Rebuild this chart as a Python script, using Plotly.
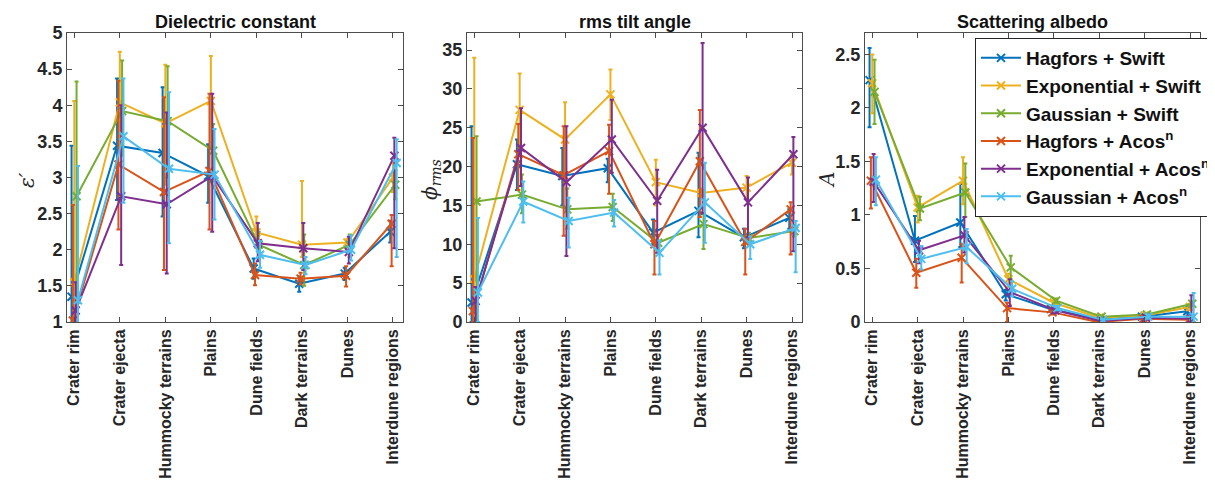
import plotly.graph_objects as go

categories = ["Crater rim", "Crater ejecta", "Hummocky terrains", "Plains",
              "Dune fields", "Dark terrains", "Dunes", "Interdune regions"]
series = ["Hagfors + Swift", "Exponential + Swift", "Gaussian + Swift",
          "Hagfors + Acos<sup>n</sup>", "Exponential + Acos<sup>n</sup>", "Gaussian + Acos<sup>n</sup>"]
colors = ["#0072BD", "#EDB120", "#77AC30", "#D95319", "#7E2F8E", "#4DBEEE"]
offsets = [-0.06, 0.0, 0.05, -0.03, 0.03, 0.08]

# Dielectric constant (value, upper, lower) per series
eps_val = [[1.35, 3.44, 3.34, 3.02, 1.74, 1.53, 1.67, 2.25],
           [1.55, 4.04, 3.75, 4.06, 2.24, 2.07, 2.10, 3.00],
           [2.74, 3.92, 3.78, 3.37, 2.07, 1.79, 2.07, 2.90],
           [1.02, 3.18, 2.80, 3.09, 1.65, 1.60, 1.64, 2.36],
           [1.16, 2.74, 2.63, 3.02, 2.09, 2.02, 1.97, 3.30],
           [1.30, 3.57, 3.12, 3.04, 1.93, 1.79, 2.00, 3.20]]
eps_hi = [[3.44, 4.37, 4.25, 3.46, 1.88, 1.63, 1.75, 2.40],
          [4.06, 4.74, 4.56, 4.68, 2.46, 2.95, 2.15, 3.20],
          [4.33, 4.62, 4.54, 3.74, 2.25, 2.21, 2.21, 3.10],
          [2.62, 4.34, 4.11, 4.16, 1.81, 1.68, 1.77, 2.48],
          [1.55, 4.00, 3.90, 4.16, 2.37, 2.37, 2.18, 3.55],
          [3.16, 4.37, 4.18, 3.67, 2.12, 1.90, 2.20, 3.53]]
eps_lo = [[0.50, 2.69, 2.46, 2.65, 1.60, 1.42, 1.58, 2.10],
          [0.50, 3.40, 2.90, 3.40, 2.05, 1.90, 2.05, 2.80],
          [1.15, 3.30, 3.00, 3.00, 1.90, 1.50, 1.90, 2.70],
          [0.50, 2.28, 1.72, 2.28, 1.51, 1.52, 1.49, 1.77],
          [0.80, 1.79, 1.67, 2.25, 1.84, 1.72, 1.81, 2.02],
          [0.50, 2.65, 2.09, 2.42, 1.75, 1.66, 1.85, 1.90]]

# rms tilt angle
rms_val = [[2.5, 20.3, 18.8, 19.8, 11.5, 14.3, 10.9, 13.4],
           [5.5, 27.3, 23.5, 29.3, 18.0, 16.6, 17.3, 20.5],
           [15.5, 16.4, 14.5, 14.8, 10.2, 12.6, 10.8, 11.7],
           [1.4, 21.6, 18.9, 22.0, 10.0, 20.7, 10.3, 14.5],
           [2.7, 22.4, 18.0, 23.5, 15.6, 25.0, 15.4, 21.6],
           [3.8, 15.5, 13.0, 14.1, 8.9, 15.4, 10.0, 12.1]]
rms_hi = [[25.2, 23.5, 22.4, 21.0, 13.2, 21.8, 12.0, 14.5],
          [34.0, 32.0, 28.3, 32.5, 20.9, 17.2, 18.8, 21.5],
          [23.9, 19.0, 17.2, 16.5, 11.2, 14.0, 11.5, 12.5],
          [23.7, 25.5, 25.2, 25.4, 13.0, 27.3, 12.0, 15.4],
          [4.5, 27.5, 25.2, 28.6, 19.6, 35.9, 18.6, 23.8],
          [13.4, 18.1, 16.0, 15.7, 10.5, 20.5, 11.0, 13.0]]
rms_lo = [[0.0, 17.0, 15.0, 18.0, 10.0, 10.9, 9.5, 12.0],
          [0.0, 22.0, 18.0, 26.0, 15.0, 16.0, 16.0, 19.0],
          [0.0, 14.0, 12.0, 13.0, 9.0, 9.4, 10.0, 11.0],
          [0.0, 17.0, 11.1, 16.5, 6.1, 13.5, 6.1, 8.7],
          [0.0, 17.5, 8.5, 19.2, 8.9, 14.0, 10.9, 9.1],
          [0.0, 12.8, 9.6, 12.3, 6.1, 10.2, 8.1, 6.4]]

# Scattering albedo
alb_val = [[2.26, 0.76, 0.93, 0.26, 0.12, 0.03, 0.05, 0.10],
           [2.23, 1.07, 1.32, 0.40, 0.18, 0.04, 0.06, 0.14],
           [2.15, 1.06, 1.21, 0.51, 0.20, 0.05, 0.07, 0.17],
           [1.32, 0.46, 0.60, 0.13, 0.09, 0.00, 0.03, 0.02],
           [1.31, 0.67, 0.81, 0.28, 0.11, 0.01, 0.04, 0.03],
           [1.33, 0.59, 0.70, 0.31, 0.13, 0.02, 0.05, 0.05]]
alb_hi = [[2.56, 0.99, 1.29, 0.30, 0.14, 0.04, 0.07, 0.15],
          [2.50, 1.18, 1.54, 0.45, 0.20, 0.05, 0.08, 0.17],
          [2.45, 1.17, 1.48, 0.62, 0.22, 0.06, 0.08, 0.19],
          [1.54, 0.59, 0.73, 0.18, 0.11, 0.01, 0.05, 0.05],
          [1.57, 0.76, 0.98, 0.40, 0.14, 0.02, 0.06, 0.25],
          [1.54, 0.71, 0.87, 0.38, 0.15, 0.03, 0.07, 0.27]]
alb_lo = [[1.82, 0.56, 0.70, 0.20, 0.10, 0.02, 0.03, 0.05],
          [1.95, 0.93, 1.10, 0.33, 0.16, 0.03, 0.04, 0.11],
          [1.85, 0.95, 0.98, 0.40, 0.18, 0.04, 0.06, 0.15],
          [1.06, 0.32, 0.37, 0.00, 0.07, 0.00, 0.01, 0.00],
          [1.12, 0.55, 0.65, 0.15, 0.08, 0.00, 0.02, 0.00],
          [1.09, 0.49, 0.55, 0.24, 0.11, 0.01, 0.03, 0.00]]

titles = ["Dielectric constant", "rms tilt angle", "Scattering albedo"]
ylabels = ["<i>ε′</i>", "<i>ϕ</i><sub><i>rms</i></sub>", "<i>A</i>"]
yranges = [[1, 5], [0, 37.2], [0, 2.7]]
ytickvals = [[1, 1.5, 2, 2.5, 3, 3.5, 4, 4.5, 5],
             [0, 5, 10, 15, 20, 25, 30, 35],
             [0, 0.5, 1, 1.5, 2, 2.5]]

W, H = 1215, 486
OFF = 8  # page body margin in the browser


def px(xp):
    return (xp - OFF) / W


def py(yp):
    return 1 - (yp - OFF) / H


xdomains = [[px(67), px(403)], [px(467), px(802)], [px(865), px(1200)]]
ydomain = [py(322), py(33)]
ylabel_x = [px(27), px(431), px(827)]

fig = go.Figure()
datasets = [(eps_val, eps_hi, eps_lo), (rms_val, rms_hi, rms_lo), (alb_val, alb_hi, alb_lo)]
for p, (vals, his, los) in enumerate(datasets):
    xa = "x" if p == 0 else f"x{p + 1}"
    ya = "y" if p == 0 else f"y{p + 1}"
    for s in range(len(series)):
        xs = [i + 1 + offsets[s] for i in range(len(categories))]
        v = vals[s]
        up = [h - a for h, a in zip(his[s], v)]
        dn = [a - l for a, l in zip(v, los[s])]
        fig.add_trace(go.Scatter(
            x=xs, y=v, mode="lines+markers", name=series[s],
            legendgroup=series[s], showlegend=(p == 2),
            line=dict(color=colors[s], width=2),
            marker=dict(symbol="x-thin", size=8, color=colors[s],
                        line=dict(color=colors[s], width=2)),
            error_y=dict(type="data", symmetric=False, array=up, arrayminus=dn,
                         color=colors[s], thickness=2, width=2),
            xaxis=xa, yaxis=ya))

axfont = dict(family="Liberation Sans, Arial", size=18, color="#262626", weight="bold")
layout = dict(
    width=W, height=H, margin=dict(l=0, r=0, t=0, b=0, autoexpand=False),
    paper_bgcolor="white", plot_bgcolor="white",
    showlegend=True,
    legend=dict(x=px(975), y=py(38), xanchor="left", yanchor="top",
                bgcolor="white", bordercolor="#262626", borderwidth=1,
                font=dict(family="Liberation Sans, Arial", size=19, color="#111", weight="bold"),
                itemwidth=40, tracegroupgap=0),
)
annotations = []
for p in range(3):
    sx = "" if p == 0 else str(p + 1)
    layout["xaxis" + sx] = dict(
        domain=xdomains[p], range=[0.84, 8.22], anchor="y" + sx,
        tickvals=list(range(1, len(categories) + 1)), ticktext=categories,
        tickangle=-90, tickfont=dict(family="Liberation Sans, Arial", size=16,
                                     color="#262626", weight="bold"),
        ticks="inside", ticklen=5, tickcolor="#4d4d4d", showline=True,
        linecolor="#4d4d4d", linewidth=1, mirror="ticks", showgrid=False,
        zeroline=False, automargin=False)
    layout["yaxis" + sx] = dict(
        domain=ydomain, range=yranges[p], anchor="x" + sx,
        tickvals=ytickvals[p], tickfont=axfont,
        ticks="inside", ticklen=5, tickcolor="#4d4d4d", showline=True,
        linecolor="#4d4d4d", linewidth=1, mirror="ticks", showgrid=False,
        zeroline=False, automargin=False)
    annotations.append(dict(
        text="<b>" + titles[p] + "</b>", xref="paper", yref="paper",
        x=(xdomains[p][0] + xdomains[p][1]) / 2, y=py(22),
        xanchor="center", yanchor="middle", showarrow=False, borderpad=0,
        font=dict(family="Liberation Sans, Arial", size=18, color="#111")))
    annotations.append(dict(
        text=ylabels[p], xref="paper", yref="paper",
        x=ylabel_x[p], y=py(180), xanchor="center", yanchor="middle",
        textangle=-90, showarrow=False,
        font=dict(family="DejaVu Serif, Liberation Serif", size=20, color="#262626")))
layout["annotations"] = annotations
fig.update_layout(**layout)
fig.write_html("out.html")
